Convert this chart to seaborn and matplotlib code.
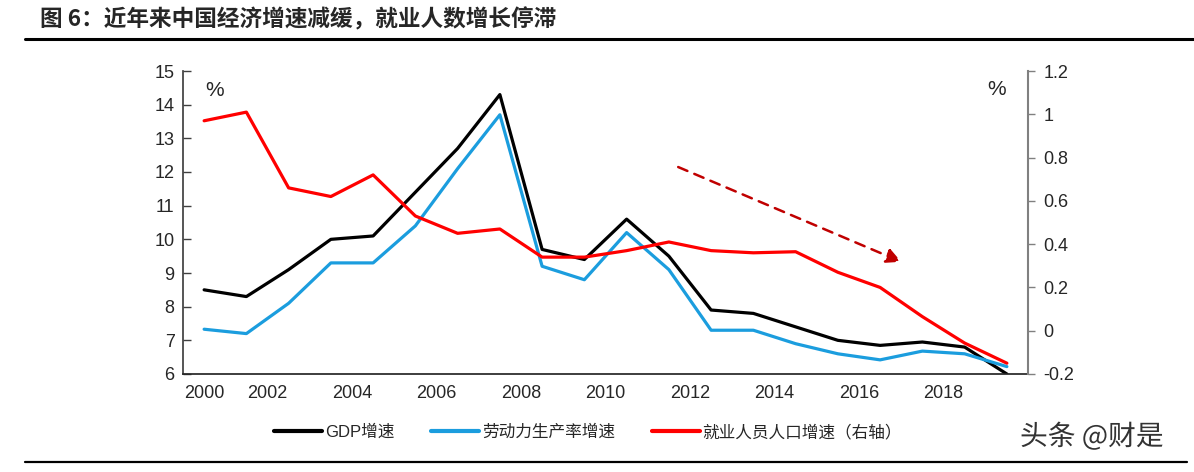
import matplotlib
matplotlib.use('Agg')
import matplotlib.pyplot as plt
import matplotlib.patheffects as pe
from matplotlib.lines import Line2D
from matplotlib.ticker import FuncFormatter
import seaborn as sns

# 年份与各序列数据（%）
years = list(range(2000, 2020))
gdp_growth = [8.5, 8.3, 9.1, 10.0, 10.1, 11.4, 12.7, 14.3, 9.7, 9.4,
              10.6, 9.5, 7.9, 7.8, 7.4, 7.0, 6.85, 6.95, 6.8, 6.0]
labor_productivity = [7.33, 7.2, 8.1, 9.3, 9.3, 10.4, 12.1, 13.7, 9.2, 8.8,
                      10.2, 9.1, 7.3, 7.3, 6.9, 6.6, 6.42, 6.68, 6.6, 6.22]
employment_growth = [0.97, 1.01, 0.66, 0.62, 0.72, 0.53, 0.45, 0.47, 0.34, 0.34,
                     0.37, 0.41, 0.37, 0.36, 0.365, 0.27, 0.2, 0.065, -0.057, -0.15]

left_ticks = list(range(6, 16))
right_ticks = [-0.2, 0, 0.2, 0.4, 0.6, 0.8, 1.0, 1.2]
series_names = ['GDP增速', '劳动力生产率增速', '就业人员人口增速（右轴）']
series_colors = ['#000000', '#1B9DDE', '#FF0000']

title = '图 6：近年来中国经济增速减缓，就业人数增长停滞'
watermark = '头条 @财是'

# 主题与字体（set_theme之后再设字体）
sns.set_theme(style='white')
plt.rcParams['font.family'] = ['Liberation Sans', 'Noto Sans CJK SC', 'DejaVu Sans']

fig = plt.figure(figsize=(11.94, 4.72), dpi=100)
ax = fig.add_axes([183 / 1194, 1 - 374 / 472, (1028 - 183) / 1194, (374 - 71) / 472])
ax2 = ax.twinx()

# 画线
lw = 2.3
sns.lineplot(x=years, y=gdp_growth, ax=ax, color=series_colors[0], linewidth=lw)
sns.lineplot(x=years, y=labor_productivity, ax=ax, color=series_colors[1], linewidth=lw)
sns.lineplot(x=years, y=employment_growth, ax=ax2, color=series_colors[2], linewidth=lw)

# 坐标范围
ax.set_xlim(years[0] - 0.5, years[-1] + 0.5)
ax.set_ylim(left_ticks[0], left_ticks[-1])
ax2.set_ylim(right_ticks[0], right_ticks[-1])

# x轴：标签每两年一个，刻度线在类别之间
label_pos = [years[0]] + [y - 0.5 for y in years[2::2]]
label_txt = [str(y) for y in years[::2]]
ax.set_xticks(label_pos)
ax.set_xticklabels(label_txt)
ax.set_xticks([y - 0.5 for y in years[2::2]], minor=True)
ax.tick_params(axis='x', which='major', length=0, pad=8, labelsize=13, colors='#262626')
ax.tick_params(axis='x', which='minor', length=6, direction='in', width=1, color='#404040')

# 左轴
ax.set_yticks(left_ticks)
ax.tick_params(axis='y', direction='in', length=6, width=1, color='#404040',
               labelsize=13, labelcolor='#262626', pad=6)

# 右轴
ax2.set_yticks(right_ticks)
ax2.yaxis.set_major_formatter(FuncFormatter(lambda v, p: f'{round(v, 1):g}'))
ax2.tick_params(axis='y', direction='out', length=5, width=1, color='#808080',
                labelsize=13, labelcolor='#262626', pad=6)

# 边框
for a in (ax, ax2):
    a.spines['top'].set_visible(False)
    a.set_xlabel('')
    a.set_ylabel('')
ax.spines['left'].set_color('#404040')
ax.spines['bottom'].set_color('#262626')
ax.spines['right'].set_visible(False)
ax2.spines['left'].set_visible(False)
ax2.spines['bottom'].set_visible(False)
ax2.spines['right'].set_color('#808080')
ax2.spines['right'].set_linewidth(1.5)

# 单位
ax.text(0.026, 0.935, '%', transform=ax.transAxes, fontsize=15, color='#262626', va='center')
ax2.text(0.952, 0.94, '%', transform=ax.transAxes, fontsize=15, color='#262626', va='center')

# 趋势箭头
ax.annotate('', xy=(2016.56, 9.3), xytext=(2011.16, 12.18),
            arrowprops=dict(arrowstyle='-|>', color='#C00000', lw=1.8,
                            linestyle=(0, (4, 3)), mutation_scale=22))

# 图例
handles = [Line2D([0], [0], color=c, linewidth=3) for c in series_colors]
fig.legend(handles, series_names, loc='center', bbox_to_anchor=(588 / 1194, 1 - 432 / 472),
           ncol=3, frameon=False, fontsize=12, handlelength=2.9, handletextpad=0.15,
           columnspacing=2.2)

# 标题与横线
fig.text(40 / 1194, 1 - 20 / 472, title, fontsize=16.3, weight='bold', va='center',
         family=['Noto Sans CJK SC', 'DejaVu Sans'])
fig.add_artist(Line2D([25 / 1194, 1], [1 - 39 / 472] * 2, color='black', linewidth=2.2,
                      transform=fig.transFigure))
fig.add_artist(Line2D([25 / 1194, 1187 / 1194], [1 - 462 / 472] * 2, color='black', linewidth=1.6,
                      transform=fig.transFigure))

# 水印
fig.text(1020 / 1194, 1 - 437 / 472, watermark, fontsize=20, color='#333333', va='center',
         family=['Noto Sans CJK SC', 'DejaVu Sans'],
         path_effects=[pe.withStroke(linewidth=2.5, foreground='white')])

fig.savefig('out.png', dpi=100)
